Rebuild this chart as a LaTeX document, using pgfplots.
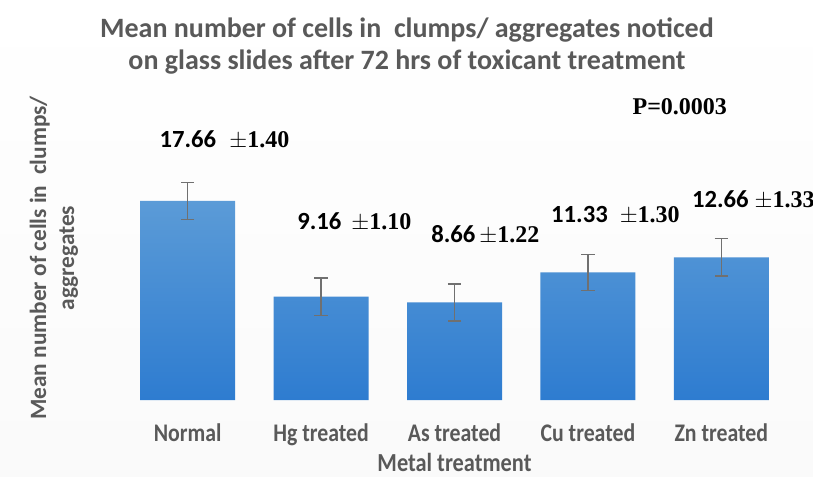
\documentclass[border=0pt]{standalone}
\usepackage{fontspec}
\setmainfont{Carlito}
\newfontfamily\annfont{Liberation Serif}
\newfontfamily\condfont[FakeStretch=0.86]{Carlito}
\usepackage{pgfplots}
\pgfplotsset{compat=1.18}
\definecolor{txtgray}{HTML}{595959}
\definecolor{bartop}{HTML}{5B9BD7}
\definecolor{barbot}{HTML}{2E7CD0}
\definecolor{errgray}{HTML}{707070}
\newcommand{\ann}[3]{{\fontsize{18.5}{22}\selectfont\bfseries #1}\hspace*{#2}{\annfont\fontsize{18}{22}\selectfont\bfseries $\pm$#3}}
\begin{document}
\begin{tikzpicture}[x=0.75pt,y=-0.75pt]
\useasboundingbox (0,0) rectangle (813,477);
\clip (0,0) rectangle (813,477);
% background (pixel coordinates, origin top-left)
\shade[top color=white, middle color=gray!11, bottom color=gray!4] (0,0) rectangle (813,477);
\node[font=\fontsize{21}{25}\selectfont\bfseries, text=txtgray] at (407,30) {Mean number of cells in\ \ clumps/ aggregates noticed};
\node[font=\fontsize{21}{25}\selectfont\bfseries, text=txtgray] at (407,62) {on glass slides after 72 hrs of toxicant treatment};
\node[font=\fontsize{17.5}{21}\selectfont\bfseries, text=txtgray, rotate=90, align=center] at (54,258) {Mean number of cells in\ \ clumps/\\aggregates};
\begin{axis}[
  at={(90.75pt,-300pt)}, anchor=south west,
  scale only axis, width=500.25pt, height=202.9pt,
  xmin=-0.5, xmax=4.5, ymin=0, ymax=24,
  clip=false,
  ybar, bar width=71.25pt,
  axis line style={draw=none},
  major tick length=0pt,
  ytick=\empty,
  xtick=data,
  xticklabels={Normal, Hg treated, As treated, Cu treated, Zn treated},
  xticklabel style={font=\condfont\fontsize{19}{22}\selectfont\bfseries, text=txtgray, anchor=base, yshift=-30.75pt},
  xlabel={Metal treatment},
  xlabel style={font=\condfont\fontsize{19.5}{22}\selectfont\bfseries, text=txtgray, at={(axis description cs:0.5,0)}, anchor=base, inner sep=0pt, yshift=-53.5pt},
]
\addplot[draw=none, top color=bartop, bottom color=barbot,
  error bars/.cd, y dir=both, y explicit,
  error bar style={errgray, line width=1.1pt},
  error mark options={errgray, line width=1.1pt, mark size=5pt, rotate=90}]
  coordinates {(0,17.66) +- (0,1.65) (1,9.16) +- (0,1.65) (2,8.66) +- (0,1.65) (3,11.33) +- (0,1.6) (4,12.66) +- (0,1.65)};
\begin{scope}[every node/.style={inner sep=0pt, anchor=west}]
\node at (axis cs:-0.213,23.07) {\ann{17.66}{10pt}{1.40}};
\node at (axis cs:0.820,15.79) {\ann{9.16}{7.5pt}{1.10}};
\node at (axis cs:1.824,14.64) {\ann{8.66}{3pt}{1.22}};
\node at (axis cs:2.723,16.42) {\ann{11.33}{9pt}{1.30}};
\node at (axis cs:3.779,17.75) {\ann{12.66}{4.5pt}{1.33}};
\node[anchor=center] at (axis cs:3.689,26.0) {\annfont\fontsize{18}{22}\selectfont\bfseries P=0.0003};
\end{scope}
\end{axis}
\end{tikzpicture}
\end{document}
